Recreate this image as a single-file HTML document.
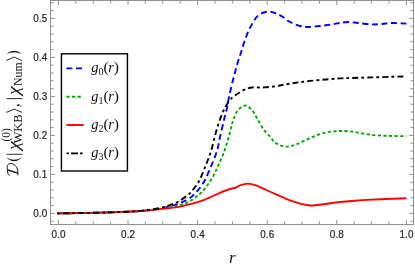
<!DOCTYPE html>
<html><head><meta charset="utf-8"><style>
html,body{margin:0;padding:0;background:#fff}
body{width:415px;height:270px;overflow:hidden}
svg{display:block}
text{font-family:"Liberation Sans",sans-serif}
.s text,text.s{font-family:"Liberation Serif",serif}
</style></head><body>
<svg width="415" height="270" viewBox="0 0 415 270" style="will-change:transform">
<rect width="415" height="270" fill="#fff"/>
<g fill="none" stroke-width="1.9">
<path d="M57.20 213.40 C60.50 213.35 70.37 213.22 77.00 213.10 C83.63 212.98 90.33 212.87 97.00 212.70 C103.67 212.53 109.83 212.38 117.00 212.10 C124.17 211.82 132.83 211.58 140.00 211.00 C147.17 210.42 153.33 209.93 160.00 208.60 C166.67 207.27 175.00 204.77 180.00 203.00 C185.00 201.23 187.33 199.77 190.00 198.00 C192.67 196.23 194.33 194.10 196.00 192.40 C197.67 190.70 198.50 189.87 200.00 187.80 C201.50 185.73 203.17 183.57 205.00 180.00 C206.83 176.43 209.00 171.23 211.00 166.40 C213.00 161.57 215.50 155.90 217.00 151.00 C218.50 146.10 218.83 142.17 220.00 137.00 C221.17 131.83 222.83 124.83 224.00 120.00 C225.17 115.17 226.17 111.83 227.00 108.00 C227.83 104.17 228.00 101.67 229.00 97.00 C230.00 92.33 231.67 85.33 233.00 80.00 C234.33 74.67 235.67 69.58 237.00 65.00 C238.33 60.42 239.67 56.67 241.00 52.50 C242.33 48.33 243.45 44.22 245.00 40.00 C246.55 35.78 248.13 31.27 250.30 27.20 C252.47 23.13 255.05 18.20 258.00 15.60 C260.95 13.00 265.00 11.95 268.00 11.60 C271.00 11.25 273.50 12.60 276.00 13.50 C278.50 14.40 280.67 15.58 283.00 17.00 C285.33 18.42 287.17 20.50 290.00 22.00 C292.83 23.50 297.00 25.17 300.00 26.00 C303.00 26.83 304.67 27.00 308.00 27.00 C311.33 27.00 315.67 26.50 320.00 26.00 C324.33 25.50 330.67 24.50 334.00 24.00 C337.33 23.50 337.67 23.33 340.00 23.00 C342.33 22.67 345.00 22.00 348.00 22.00 C351.00 22.00 354.00 22.60 358.00 23.00 C362.00 23.40 368.00 24.23 372.00 24.40 C376.00 24.57 378.67 24.23 382.00 24.00 C385.33 23.77 387.93 23.07 392.00 23.00 C396.07 22.93 404.00 23.50 406.40 23.60" stroke="#0000ff" stroke-dasharray="6 3.6"/>
<path d="M57.20 213.40 C60.50 213.35 70.37 213.22 77.00 213.10 C83.63 212.98 90.33 212.87 97.00 212.70 C103.67 212.53 109.83 212.38 117.00 212.10 C124.17 211.82 132.83 211.52 140.00 211.00 C147.17 210.48 153.33 210.00 160.00 209.00 C166.67 208.00 175.00 206.33 180.00 205.00 C185.00 203.67 186.67 202.87 190.00 201.00 C193.33 199.13 197.45 195.97 200.00 193.80 C202.55 191.63 203.27 190.63 205.30 188.00 C207.33 185.37 210.00 181.83 212.20 178.00 C214.40 174.17 216.45 169.58 218.50 165.00 C220.55 160.42 222.75 155.33 224.50 150.50 C226.25 145.67 227.65 140.75 229.00 136.00 C230.35 131.25 231.20 126.17 232.60 122.00 C234.00 117.83 235.37 113.75 237.40 111.00 C239.43 108.25 242.37 105.67 244.80 105.50 C247.23 105.33 249.80 107.58 252.00 110.00 C254.20 112.42 256.00 116.67 258.00 120.00 C260.00 123.33 262.00 127.25 264.00 130.00 C266.00 132.75 268.33 134.58 270.00 136.50 C271.67 138.42 272.33 140.02 274.00 141.50 C275.67 142.98 277.67 144.55 280.00 145.40 C282.33 146.25 285.33 146.77 288.00 146.60 C290.67 146.43 293.00 145.50 296.00 144.40 C299.00 143.30 302.67 141.47 306.00 140.00 C309.33 138.53 312.67 136.87 316.00 135.60 C319.33 134.33 322.67 133.13 326.00 132.40 C329.33 131.67 333.33 131.43 336.00 131.20 C338.67 130.97 339.33 130.93 342.00 131.00 C344.67 131.07 348.67 131.20 352.00 131.60 C355.33 132.00 358.67 132.87 362.00 133.40 C365.33 133.93 368.67 134.43 372.00 134.80 C375.33 135.17 378.67 135.40 382.00 135.60 C385.33 135.80 387.93 135.90 392.00 136.00 C396.07 136.10 404.00 136.17 406.40 136.20" stroke="#00aa00" stroke-dasharray="3.2 2.4"/>
<path d="M57.20 213.40 C60.50 213.35 70.37 213.22 77.00 213.10 C83.63 212.98 90.33 212.87 97.00 212.70 C103.67 212.53 109.83 212.38 117.00 212.10 C124.17 211.82 132.83 211.50 140.00 211.00 C147.17 210.50 153.33 209.83 160.00 209.10 C166.67 208.37 173.33 207.88 180.00 206.60 C186.67 205.32 195.00 202.95 200.00 201.40 C205.00 199.85 206.67 198.73 210.00 197.30 C213.33 195.87 216.67 194.18 220.00 192.80 C223.33 191.42 227.40 189.82 230.00 189.00 C232.60 188.18 234.67 188.08 235.60 187.90  C236.33 187.47 237.93 186.02 240.00 185.30 C242.07 184.58 245.33 183.58 248.00 183.60 C250.67 183.62 253.00 184.33 256.00 185.40 C259.00 186.47 262.67 188.50 266.00 190.00 C269.33 191.50 273.17 193.17 276.00 194.40 C278.83 195.63 280.67 196.40 283.00 197.40 C285.33 198.40 287.17 199.37 290.00 200.40 C292.83 201.43 297.00 202.80 300.00 203.60 C303.00 204.40 306.00 204.88 308.00 205.20 C310.00 205.52 310.00 205.58 312.00 205.50 C314.00 205.42 316.33 205.15 320.00 204.70 C323.67 204.25 328.67 203.42 334.00 202.80 C339.33 202.18 345.67 201.53 352.00 201.00 C358.33 200.47 365.33 199.97 372.00 199.60 C378.67 199.23 386.27 199.03 392.00 198.80 C397.73 198.57 404.00 198.30 406.40 198.20" stroke="#ff0000" stroke-linejoin="round"/>
<path d="M57.20 213.40 C60.50 213.35 70.37 213.22 77.00 213.10 C83.63 212.98 90.33 212.87 97.00 212.70 C103.67 212.53 109.83 212.38 117.00 212.10 C124.17 211.82 132.83 211.68 140.00 211.00 C147.17 210.32 155.00 208.97 160.00 208.00 C165.00 207.03 166.67 206.43 170.00 205.20 C173.33 203.97 176.67 202.60 180.00 200.60 C183.33 198.60 187.33 195.68 190.00 193.20 C192.67 190.72 194.33 188.03 196.00 185.70 C197.67 183.37 198.33 182.68 200.00 179.20 C201.67 175.72 204.17 169.45 206.00 164.80 C207.83 160.15 209.33 156.77 211.00 151.30 C212.67 145.83 214.17 138.22 216.00 132.00 C217.83 125.78 219.83 119.13 222.00 114.00 C224.17 108.87 226.83 104.28 229.00 101.20 C231.17 98.12 232.50 97.38 235.00 95.50 C237.50 93.62 241.17 91.23 244.00 89.90 C246.83 88.57 248.67 87.92 252.00 87.50 C255.33 87.08 260.00 87.62 264.00 87.40 C268.00 87.18 272.83 86.62 276.00 86.20 C279.17 85.78 279.67 85.48 283.00 84.90 C286.33 84.32 291.50 83.37 296.00 82.70 C300.50 82.03 305.00 81.43 310.00 80.90 C315.00 80.37 321.00 79.92 326.00 79.50 C331.00 79.08 335.67 78.65 340.00 78.40 C344.33 78.15 346.67 78.17 352.00 78.00 C357.33 77.83 365.33 77.60 372.00 77.40 C378.67 77.20 386.27 76.97 392.00 76.80 C397.73 76.63 404.00 76.47 406.40 76.40" stroke="#000" stroke-dasharray="2.8 3.1 6 3.1"/>
</g>
<rect x="50.5" y="0.5" width="363" height="224" fill="none" stroke="#909090" stroke-width="1"/>
<path d="M58.40 224.5v-4.50 M58.40 0.5v4.50 M75.80 224.5v-3.10 M75.80 0.5v3.10 M93.20 224.5v-3.10 M93.20 0.5v3.10 M110.60 224.5v-3.10 M110.60 0.5v3.10 M128.00 224.5v-4.50 M128.00 0.5v4.50 M145.40 224.5v-3.10 M145.40 0.5v3.10 M162.80 224.5v-3.10 M162.80 0.5v3.10 M180.20 224.5v-3.10 M180.20 0.5v3.10 M197.60 224.5v-4.50 M197.60 0.5v4.50 M215.00 224.5v-3.10 M215.00 0.5v3.10 M232.40 224.5v-3.10 M232.40 0.5v3.10 M249.80 224.5v-3.10 M249.80 0.5v3.10 M267.20 224.5v-4.50 M267.20 0.5v4.50 M284.60 224.5v-3.10 M284.60 0.5v3.10 M302.00 224.5v-3.10 M302.00 0.5v3.10 M319.40 224.5v-3.10 M319.40 0.5v3.10 M336.80 224.5v-4.50 M336.80 0.5v4.50 M354.20 224.5v-3.10 M354.20 0.5v3.10 M371.60 224.5v-3.10 M371.60 0.5v3.10 M389.00 224.5v-3.10 M389.00 0.5v3.10 M406.40 224.5v-4.50 M406.40 0.5v4.50 M50.5 221.20h3.10 M413.5 221.20h-3.10 M50.5 213.40h4.50 M413.5 213.40h-4.50 M50.5 205.60h3.10 M413.5 205.60h-3.10 M50.5 197.80h3.10 M413.5 197.80h-3.10 M50.5 190.00h3.10 M413.5 190.00h-3.10 M50.5 182.20h3.10 M413.5 182.20h-3.10 M50.5 174.40h4.50 M413.5 174.40h-4.50 M50.5 166.60h3.10 M413.5 166.60h-3.10 M50.5 158.80h3.10 M413.5 158.80h-3.10 M50.5 151.00h3.10 M413.5 151.00h-3.10 M50.5 143.20h3.10 M413.5 143.20h-3.10 M50.5 135.40h4.50 M413.5 135.40h-4.50 M50.5 127.60h3.10 M413.5 127.60h-3.10 M50.5 119.80h3.10 M413.5 119.80h-3.10 M50.5 112.00h3.10 M413.5 112.00h-3.10 M50.5 104.20h3.10 M413.5 104.20h-3.10 M50.5 96.40h4.50 M413.5 96.40h-4.50 M50.5 88.60h3.10 M413.5 88.60h-3.10 M50.5 80.80h3.10 M413.5 80.80h-3.10 M50.5 73.00h3.10 M413.5 73.00h-3.10 M50.5 65.20h3.10 M413.5 65.20h-3.10 M50.5 57.40h4.50 M413.5 57.40h-4.50 M50.5 49.60h3.10 M413.5 49.60h-3.10 M50.5 41.80h3.10 M413.5 41.80h-3.10 M50.5 34.00h3.10 M413.5 34.00h-3.10 M50.5 26.20h3.10 M413.5 26.20h-3.10 M50.5 18.40h4.50 M413.5 18.40h-4.50 M50.5 10.60h3.10 M413.5 10.60h-3.10 M50.5 2.80h3.10 M413.5 2.80h-3.10" stroke="#909090" stroke-width="1" fill="none"/>
<g font-size="11" fill="#1c1c1c" stroke="#1c1c1c" stroke-width="0.2" letter-spacing="0.15"><text transform="translate(58.50,238) scale(0.9,1)" text-anchor="middle">0.0</text><text transform="translate(128.10,238) scale(0.9,1)" text-anchor="middle">0.2</text><text transform="translate(197.70,238) scale(0.9,1)" text-anchor="middle">0.4</text><text transform="translate(267.30,238) scale(0.9,1)" text-anchor="middle">0.6</text><text transform="translate(336.90,238) scale(0.9,1)" text-anchor="middle">0.8</text><text transform="translate(406.50,238) scale(0.9,1)" text-anchor="middle">1.0</text><text transform="translate(47.3,216.90) scale(0.9,1)" text-anchor="end">0.0</text><text transform="translate(47.3,177.90) scale(0.9,1)" text-anchor="end">0.1</text><text transform="translate(47.3,138.90) scale(0.9,1)" text-anchor="end">0.2</text><text transform="translate(47.3,99.90) scale(0.9,1)" text-anchor="end">0.3</text><text transform="translate(47.3,60.90) scale(0.9,1)" text-anchor="end">0.4</text><text transform="translate(47.3,21.90) scale(0.9,1)" text-anchor="end">0.5</text></g>
<!-- legend -->
<rect x="61.45" y="53.8" width="66" height="117.2" fill="#fff" stroke="#000" stroke-width="1.4"/>
<g fill="none" stroke-width="1.9">
<path d="M66.4 68.4H82.4" stroke="#0000ff" stroke-dasharray="6 3.6"/>
<path d="M66.4 96.7H81.2" stroke="#00aa00" stroke-dasharray="3.2 2.4"/>
<path d="M66.4 125H83.6" stroke="#ff0000"/>
<path d="M66.4 153.4H83.6" stroke="#000" stroke-dasharray="2.6 2 7 2"/>
</g>
<g class="s" font-size="14.5" fill="#111">
<text x="91.2" y="72.4"><tspan font-style="italic">g</tspan><tspan font-size="10" dy="2.9">0</tspan><tspan dy="-2.9" dx="0.1" font-size="15.6">(</tspan><tspan font-style="italic" dx="-0.5">r</tspan><tspan font-size="15.6" dx="-0.2">)</tspan></text>
<text x="91.2" y="100.7"><tspan font-style="italic">g</tspan><tspan font-size="10" dy="2.9">1</tspan><tspan dy="-2.9" dx="0.1" font-size="15.6">(</tspan><tspan font-style="italic" dx="-0.5">r</tspan><tspan font-size="15.6" dx="-0.2">)</tspan></text>
<text x="91.2" y="129.0"><tspan font-style="italic">g</tspan><tspan font-size="10" dy="2.9">2</tspan><tspan dy="-2.9" dx="0.1" font-size="15.6">(</tspan><tspan font-style="italic" dx="-0.5">r</tspan><tspan font-size="15.6" dx="-0.2">)</tspan></text>
<text x="91.2" y="157.4"><tspan font-style="italic">g</tspan><tspan font-size="10" dy="2.9">3</tspan><tspan dy="-2.9" dx="0.1" font-size="15.6">(</tspan><tspan font-style="italic" dx="-0.5">r</tspan><tspan font-size="15.6" dx="-0.2">)</tspan></text>
</g>
<!-- x label -->
<text class="s" x="232.2" y="262.8" font-size="17" font-style="italic" text-anchor="middle" fill="#111">r</text>
<!-- y label -->
<g transform="translate(18.5,178) rotate(-90)" class="s" fill="#111">
<path d="M8 -10.6L4.9 -0.7" fill="none" stroke="#111" stroke-width="1.5"/><path d="M2.7 -9C3.2 -10.6 5.3 -11.1 7.9 -10.9C10.5 -11.9 14.7 -11.6 14.5 -7.4C14.2 -3.4 10 -0.6 6 -0.6L3.2 -0.6" fill="none" stroke="#111" stroke-width="1" stroke-linecap="round"/>
<path d="M20.80 -12.30 Q13.00 -4.35 20.80 3.60 Q15.80 -4.35 20.80 -12.30 Z"/>
<path d="M23.70 -11.90V3.90" fill="none" stroke="#111" stroke-width="0.9"/>
<text x="28" y="0" font-size="17" font-style="italic" textLength="8.7" lengthAdjust="spacingAndGlyphs">χ</text>
<text x="36.5" y="-8.5" font-size="11.5">(0)</text>
<text x="34.4" y="3.8" font-size="11.6" textLength="29.3" lengthAdjust="spacingAndGlyphs">WKB</text>
<path d="M65.60 -12.30L68.80 -4.35L65.60 3.60" fill="none" stroke="#111" stroke-width="0.9"/>
<text x="70.8" y="0" font-size="16">,</text>
<path d="M79.40 -11.90V3.90" fill="none" stroke="#111" stroke-width="0.9"/>
<text x="83" y="0" font-size="17" font-style="italic" textLength="8.7" lengthAdjust="spacingAndGlyphs">χ</text>
<text x="92" y="3.8" font-size="11.8">Num</text>
<path d="M117.40 -12.30L120.90 -4.35L117.40 3.60" fill="none" stroke="#111" stroke-width="0.9"/>
<path d="M124.10 -12.30 Q130.30 -4.35 124.10 3.60 Q127.50 -4.35 124.10 -12.30 Z"/>
</g>
</svg>
</body></html>
